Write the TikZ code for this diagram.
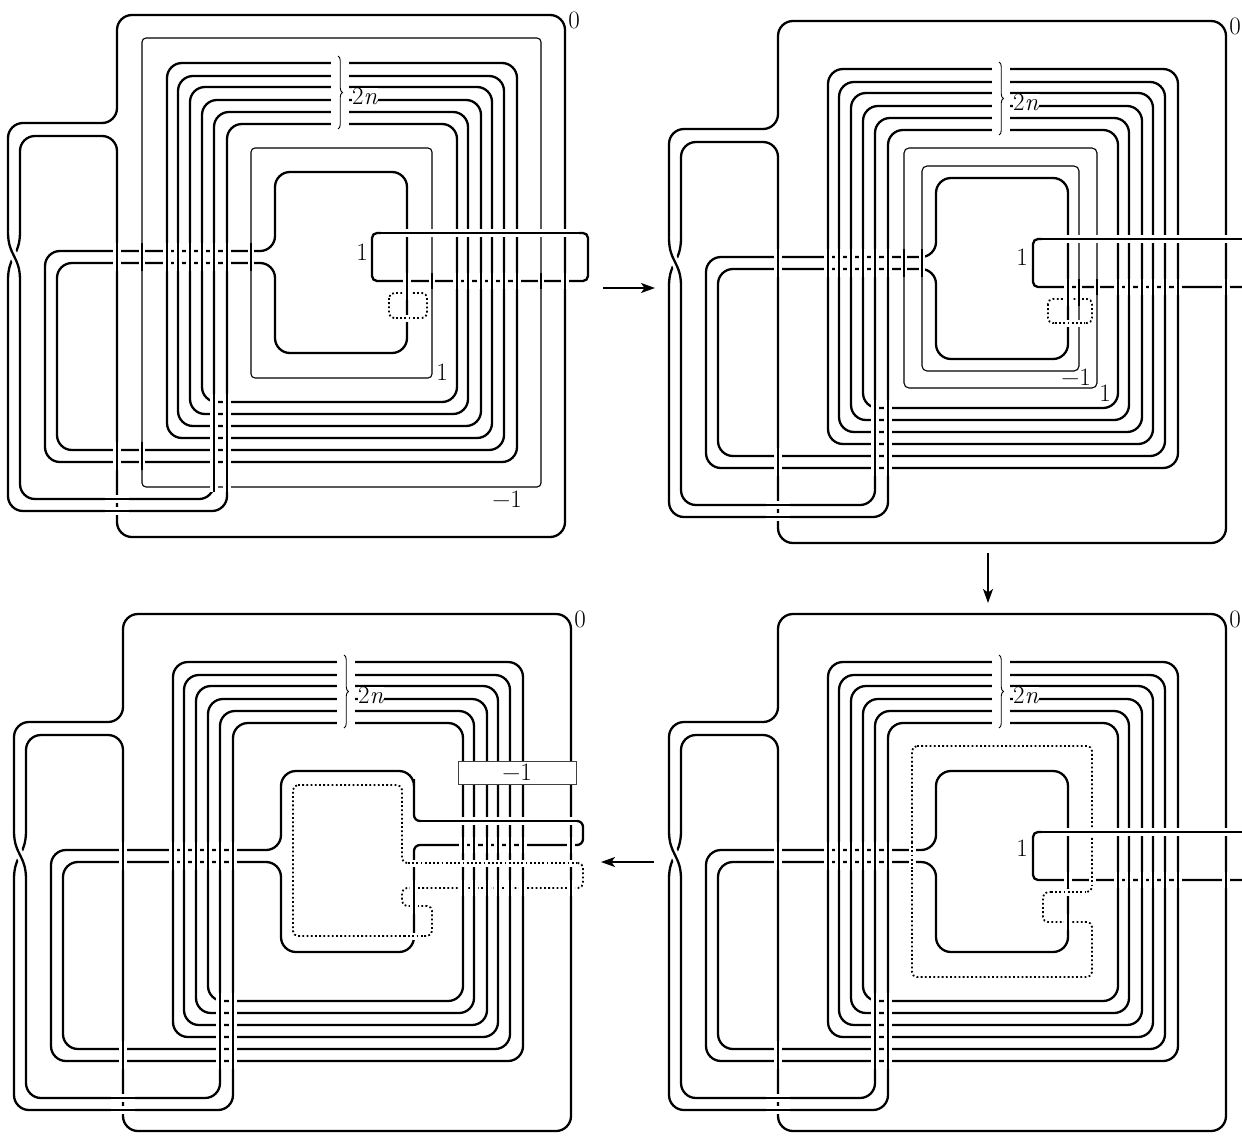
\RequirePackage{fix-cm}
\documentclass[tikz,border=0pt]{standalone}
\usetikzlibrary{arrows.meta,decorations.pathreplacing}
\tikzset{
  thk/.style={line width=2.3pt},
  thn/.style={line width=1.1pt},
  ovk/.style={line width=2.3pt, preaction={draw=white, line width=8pt}},
  ovt/.style={line width=1.1pt, preaction={draw=white, line width=6pt}},
  dotl/.style={line width=1.8pt, dash pattern=on 1.8pt off 2.4pt},
  ovd/.style={dotl, preaction={draw=white, solid, line width=7pt}},
  lab/.style={font=\fontsize{25}{28}\selectfont, inner sep=0pt},
  arr/.style={line width=1.4pt, -{Stealth[length=14pt,width=10pt,inset=3.5pt]}},
}
\newcommand\mi{\symbol{"2212}}
\newcommand\frameloop[1]{%
  \draw[thk, rounded corners=15pt] (8,232) -- (8,123) -- (117,123) -- (117,15) -- (565,15) -- (565,#1) -- (117,#1) -- (117,136) -- (20,136) -- (20,232);
  \draw[thk] (20,232) .. controls (20,256) and (8,256) .. (8,280);
  \draw[ovk] (8,232) .. controls (8,256) and (20,256) .. (20,280);
}
\newcommand\spiralloop[1]{%
  \draw[thk, rounded corners=15pt] (20,280) -- (20,499) -- (214,499) -- (214,112) -- (468,112) -- (468,414) -- (190,414) -- (190,87) -- (492,87) -- (492,438) -- (167,438) -- (167,63) -- (517,63) -- (517,462) -- (45,462) -- (45,251) #1 -- (57,263) -- (57,450) -- (504,450) -- (504,76) -- (178,76) -- (178,426) -- (481,426) -- (481,100) -- (202,100) -- (202,402) -- (457,402) -- (457,124) -- (227,124) -- (227,511) -- (8,511) -- (8,280);
}
\newcommand\bracepart[1]{%
  \fill[white] (331,55) rectangle (349,131);
  \draw[line width=0.9pt, decorate, decoration={brace, amplitude=4.5pt}] (338,56) -- (338,129);
  \node[lab, fill=white] (#1twon) at (365,96) {2\textit{n}};
  \node[lab] (#1zero) at (574,20) {0};
}
\newcommand\commonmarks[1]{%
  \foreach \x in {117,167,178,190,202,214,227} {\draw[ovk] (\x,243) -- (\x,271);}
  \draw[ovk] (117,442) -- (117,470);
  \draw[ovk] (214,394) -- (214,#1);
  \draw[ovk] (227,394) -- (227,#1);
  \draw[ovk] (105,499) -- (129,499);
  \draw[ovk] (105,511) -- (129,511);
}
\begin{document}
\begin{tikzpicture}[x=1pt,y=-1pt]
\useasboundingbox (0,0) rectangle (1242,1135);
\clip (0,0) rectangle (1242,1135);

% ---------------- top left ----------------
\begin{scope}
  \frameloop{537}
  \spiralloop{-- (275,251) -- (275,172) -- (407,172) -- (407,353) -- (275,353) -- (275,263)}
  \draw[thn, rounded corners=4pt] (142,38) rectangle (541,487);
  \draw[thn, rounded corners=4pt] (251,148) rectangle (432,378);
  \draw[thk, rounded corners=5pt] (372,233) rectangle (588,281);
  \draw[dotl, rounded corners=5pt] (389,293) rectangle (427,318);
  \bracepart{tl}
  \commonmarks{492}
  \foreach \x in {142,251} {\draw[ovt] (\x,243) -- (\x,271);}
  \draw[ovt] (142,442) -- (142,470);
  \draw[ovk] (381,233) -- (579,233);
  \foreach \x in {457,468,481,492,504,517,565} {\draw[ovk] (\x,273) -- (\x,289);}
  \foreach \x in {432,541} {\draw[ovt] (\x,273) -- (\x,289);}
  \draw[ovk] (407,273) -- (407,300);
  \draw[ovd] (396,318) -- (420,318);
  \node[lab] (tlboxl) at (362,252) {1};
  \node[lab] (tlin) at (442,372) {1};
  \node[lab] (tlout) at (507,499) {\mi1};
\end{scope}

% ---------------- top right ----------------
\begin{scope}[shift={(661,6)}]
  \frameloop{537}
  \spiralloop{-- (275,251) -- (275,172) -- (407,172) -- (407,353) -- (275,353) -- (275,263)}
  \draw[thn, rounded corners=5pt] (243,142) rectangle (436,382);
  \draw[thn, rounded corners=5pt] (261,160) rectangle (418,365);
  \draw[thk, rounded corners=5pt] (650,233) -- (372,233) -- (372,281) -- (650,281);
  \draw[dotl, rounded corners=5pt] (387,293) rectangle (431,317);
  \bracepart{tr}
  \commonmarks{470}
  \foreach \x in {243,261} {\draw[ovt] (\x,243) -- (\x,271);}
  \draw[ovk] (381,233) -- (650,233);
  \foreach \x in {457,468,481,492,504,517,565} {\draw[ovk] (\x,273) -- (\x,289);}
  \draw[ovt] (436,273) -- (436,289);
  \draw[ovk] (407,273) -- (407,300);
  \draw[ovt] (418,273) -- (418,300);
  \draw[ovd] (394,317) -- (424,317);
  \node[lab] (trboxl) at (361,251) {1};
  \node[lab] (trm) at (415,371) {\mi1};
  \node[lab] (trp) at (444,387) {1};
\end{scope}

% ---------------- bottom right ----------------
\begin{scope}[shift={(661,599)}]
  \frameloop{532}
  \spiralloop{-- (275,251) -- (275,172) -- (407,172) -- (407,353) -- (275,353) -- (275,263)}
  \draw[thk, rounded corners=5pt] (650,233) -- (372,233) -- (372,281) -- (650,281);
  \draw[dotl, rounded corners=5pt] (251,147) -- (431,147) -- (431,293) -- (382,293) -- (382,323) -- (431,323) -- (431,378) -- (251,378) -- cycle;
  \bracepart{br}
  \commonmarks{470}
  \draw[ovd] (251,243) -- (251,271);
  \draw[ovk] (381,233) -- (650,233);
  \foreach \x in {407,457,468,481,492,504,517,565} {\draw[ovk] (\x,273) -- (\x,289);}
  \draw[ovd] (431,273) -- (431,289);
  \draw[ovd] (390,293) -- (424,293);
  \draw[ovk] (407,315) -- (407,331);
  \node[lab] (brboxl) at (361,249) {1};
\end{scope}

% ---------------- bottom left ----------------
\begin{scope}[shift={(6,599)}]
  \frameloop{532}
  \spiralloop{-- (275,251) -- (275,172) -- (408,172) -- (408,195) [rounded corners=6pt] -- (408,222) -- (577,222) -- (577,246) -- (408,246) -- (408,270) [rounded corners=15pt] -- (408,353) -- (275,353) -- (275,263)}
  \draw[dotl, rounded corners=5pt] (287,186) -- (396,186) -- (396,264) -- (577,264) -- (577,289) -- (396,289) -- (396,307) -- (426,307) -- (426,337) -- (287,337) -- cycle;
  \bracepart{bl}
  \commonmarks{470}
  \draw[ovk] (415,222) -- (571,222);
  \foreach \x in {457,468,481,492,504,517,565} {\draw[ovk] (\x,238) -- (\x,254);}
  \draw[ovd] (402,264) -- (571,264);
  \foreach \x in {457,468,481,492,504,517,565} {\draw[ovk] (\x,281) -- (\x,297);}
  \draw[ovk] (408,281) -- (408,315);
  \draw[ovd] (398,337) -- (418,337);
  \node[lab, draw=black!75, line width=1pt, fill=white, minimum width=118pt, minimum height=23pt] (blbox) at (511,173.5) {\mi1};
\end{scope}

% ---------------- arrows ----------------
\coordinate (a1s) at (603,288);
\coordinate (a1e) at (655,288);
\coordinate (a2s) at (988,553);
\coordinate (a2e) at (988,603);
\coordinate (a3s) at (654,862);
\coordinate (a3e) at (601,862);
\draw[arr] (a1s) -- (a1e);
\draw[arr] (a2s) -- (a2e);
\draw[arr] (a3s) -- (a3e);
\end{tikzpicture}
\end{document}
